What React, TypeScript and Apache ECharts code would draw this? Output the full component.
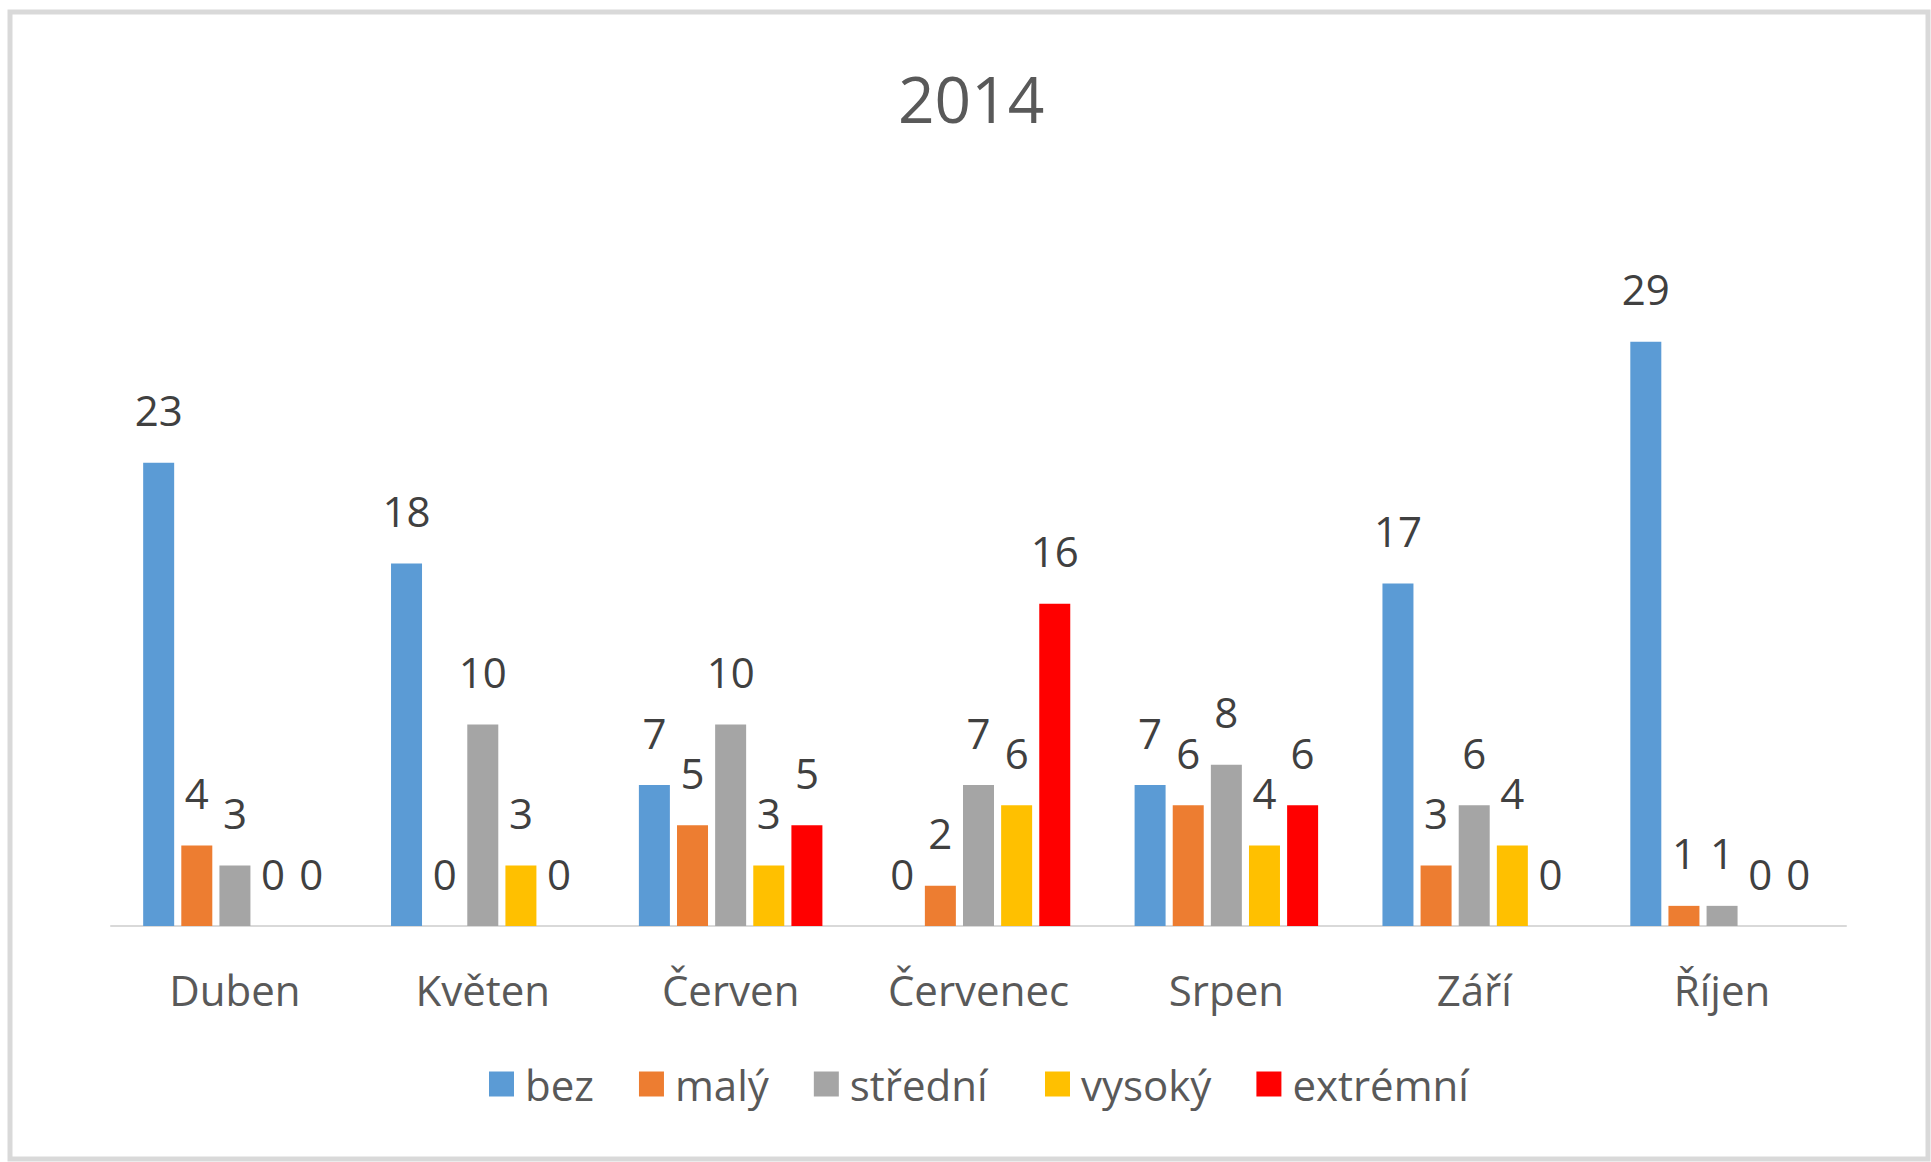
import React, { useEffect, useRef } from "react";
import * as echarts from "echarts";

const months = ["Duben", "Květen", "Červen", "Červenec", "Srpen", "Září", "Říjen"];
const seriesNames = ["bez", "malý", "střední", "vysoký", "extrémní"];
const bez = [23, 18, 7, 0, 7, 17, 29];
const maly = [4, 0, 5, 2, 6, 3, 1];
const stredni = [3, 10, 10, 7, 8, 6, 1];
const vysoky = [0, 3, 3, 6, 4, 4, 0];
const extremni = [0, 0, 5, 16, 6, 0, 0];
const colors = ["#5b9bd5", "#ed7d31", "#a5a5a5", "#ffc000", "#ff0000"];

const FONT = "'Open Sans', 'Noto Sans', sans-serif";

export default function App() {
  const ref = useRef<HTMLDivElement>(null);
  useEffect(() => {
    if (!ref.current) return;
    const chart = echarts.init(ref.current, undefined, { renderer: "svg" });
    const values = [bez, maly, stredni, vysoky, extremni];
    const legendBase = {
      top: 1058,
      itemWidth: 25,
      itemHeight: 25,
      itemGap: 45,
      icon: "rect",
      textStyle: { fontFamily: FONT, fontSize: 42, color: "#595959", padding: [0, 0, 0, 6] },
    };
    chart.setOption({
      animation: false,
      backgroundColor: "#ffffff",
      title: {
        text: "2014",
        left: 893,
        top: 61,
        textStyle: { fontFamily: FONT, fontSize: 64, fontWeight: "normal", color: "#595959" },
      },
      graphic: [
        {
          type: "rect",
          shape: { x: 10, y: 12, width: 1918, height: 1147 },
          style: { fill: "none", stroke: "#d9d9d9", lineWidth: 5 },
          silent: true,
        },
      ],
      legend: [
        { ...legendBase, left: 484, data: seriesNames.slice(0, 3) },
        { ...legendBase, left: 1040, data: seriesNames.slice(3) },
      ],
      grid: { left: 111, right: 85, top: 221, bottom: 236 },
      xAxis: {
        type: "category",
        data: months,
        axisLine: { lineStyle: { color: "#d9d9d9", width: 2 } },
        axisTick: { show: false },
        axisLabel: { fontFamily: FONT, fontSize: 42, color: "#595959", margin: 42 },
      },
      yAxis: {
        type: "value",
        min: 0,
        max: 35,
        show: false,
        splitLine: { show: false },
      },
      series: seriesNames.map((name, i) => ({
        name,
        type: "bar",
        data: values[i],
        barWidth: 31,
        barGap: "23%",
        itemStyle: { color: colors[i] },
        label: {
          show: true,
          position: "top",
          distance: 32,
          fontFamily: FONT,
          fontSize: 42,
          color: "#404040",
        },
      })),
    });
    return () => chart.dispose();
  }, []);
  return (
    <div
      ref={ref}
      style={{ position: "absolute", left: 0, top: 0, width: 1931, height: 1162 }}
    />
  );
}
